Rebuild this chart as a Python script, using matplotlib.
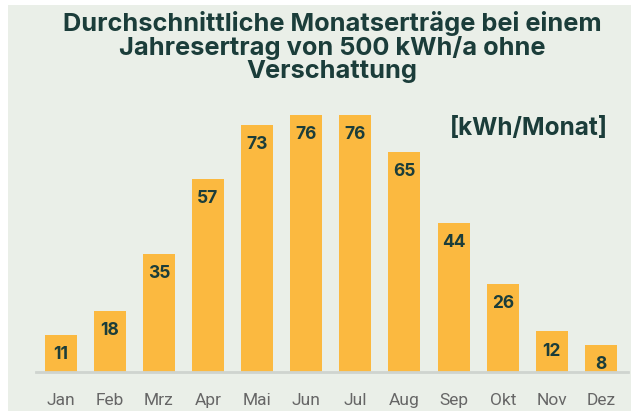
import numpy as np
import matplotlib.pyplot as plt
from matplotlib.patches import Rectangle

months = ['Jan', 'Feb', 'Mrz', 'Apr', 'Mai', 'Jun', 'Jul', 'Aug', 'Sep', 'Okt', 'Nov', 'Dez']
values = [11, 18, 35, 57, 73, 76, 76, 65, 44, 26, 12, 8]

bg = '#eaefe8'
bar_color = '#fbb940'
dark = '#1b3d3a'

plt.rcParams['font.family'] = ['Roboto', 'DejaVu Sans']
bold_font = ['Inter', 'DejaVu Sans']

fig = plt.figure(figsize=(6.31, 4.11), dpi=100)
fig.patch.set_facecolor('white')
# panel background, leaving the thin white strip at left and top
fig.patches.append(Rectangle((8 / 631, 0), 1, 1 - 5 / 411, transform=fig.transFigure,
                             facecolor=bg, edgecolor='none', zorder=-10))

ax = fig.add_axes([36 / 631, 39 / 411, 592 / 631, 270.5 / 411])
ax.set_facecolor('none')

x = np.arange(len(months))
bars = ax.bar(x, values, width=0.65, color=bar_color, zorder=2)
for xi, v in zip(x, values):
    ax.text(xi, v - 5.8, str(v), ha='center', va='center', fontsize=12.5,
            fontweight='bold', color=dark, family=bold_font)

ax.set_xlim(-0.5, 11.55)
ax.set_ylim(0, 80)
ax.set_yticks([])
ax.set_xticks(x)
ax.set_xticklabels(months, fontsize=12.5, color='#666666')
ax.tick_params(axis='x', length=0, pad=15)
for s in ['top', 'right', 'left']:
    ax.spines[s].set_visible(False)
ax.spines['bottom'].set_color('#cfd4cf')
ax.spines['bottom'].set_linewidth(2)

fig.text(332 / 631, 1 - 47 / 411,
         'Durchschnittliche Monatserträge bei einem\nJahresertrag von 500 kWh/a ohne\nVerschattung',
         ha='center', va='center', fontsize=18.3, fontweight='bold', color=dark,
         linespacing=1.0, family=bold_font)
fig.text(608 / 631, 1 - 128 / 411, '[kWh/Monat]', ha='right', va='center',
         fontsize=17.5, fontweight='bold', color=dark, family=bold_font)

fig.savefig('out.png', dpi=100, facecolor=fig.get_facecolor())
